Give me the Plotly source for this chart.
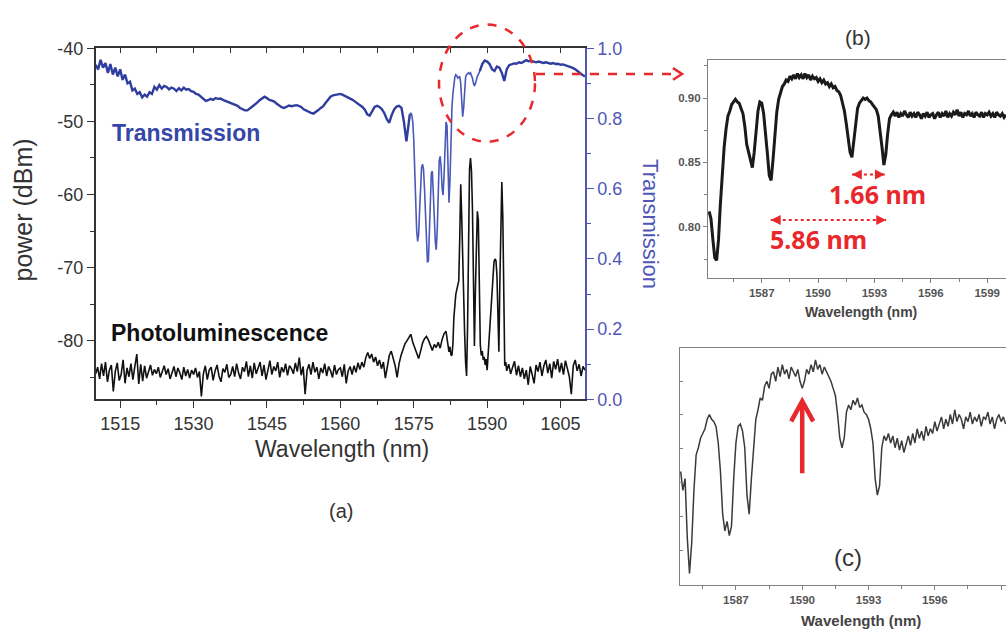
import numpy as np
import plotly.graph_objects as go

# ---------------- Panel (a): transmission (right axis, 0..1) ----------------
trans_seg1_start, trans_seg1_step = 1510.0, 0.5
trans_seg1 = [
    0.953, 0.940, 0.967, 0.945, 0.958, 0.930, 0.955, 0.925, 0.945, 0.920,
    0.940, 0.910, 0.925, 0.900, 0.905, 0.880, 0.885, 0.870, 0.875, 0.860,
    0.868, 0.862, 0.875, 0.870, 0.890, 0.882, 0.895, 0.885, 0.893, 0.890,
    0.883, 0.888, 0.885, 0.878, 0.886, 0.880, 0.888, 0.882, 0.884, 0.878,
    0.876, 0.870, 0.868, 0.862, 0.856, 0.850, 0.852, 0.856, 0.853, 0.858,
    0.856, 0.857, 0.853, 0.850, 0.847, 0.845, 0.843, 0.840, 0.836, 0.830,
    0.826, 0.823, 0.823, 0.828, 0.835, 0.840, 0.845, 0.852, 0.858, 0.862,
    0.858, 0.853, 0.851, 0.848, 0.842, 0.836, 0.832, 0.830, 0.834, 0.837,
    0.835, 0.836, 0.838, 0.836, 0.833, 0.826, 0.822, 0.818, 0.816, 0.814,
    0.818, 0.824, 0.830, 0.835, 0.845, 0.855, 0.862, 0.866, 0.868, 0.870,
    0.870, 0.867, 0.864, 0.860, 0.857, 0.853, 0.848, 0.843, 0.838, 0.833,
    0.825, 0.812, 0.808, 0.822, 0.833, 0.836, 0.833, 0.826, 0.815, 0.798,
    0.788, 0.810, 0.826, 0.834, 0.836, 0.830, 0.790, 0.735, 0.800,
]
trans_seg2_start, trans_seg2_step = 1574.2, 0.2
trans_seg2 = [
    0.812, 0.816, 0.810, 0.790,
    0.740, 0.650, 0.560, 0.480, 0.450,
    0.470, 0.540, 0.620, 0.660, 0.670,
    0.655, 0.600, 0.520, 0.440, 0.390,
    0.395, 0.470, 0.580, 0.645, 0.650,
    0.600, 0.520, 0.450, 0.426, 0.480,
    0.600, 0.680, 0.692, 0.660, 0.600,
    0.582, 0.640, 0.740, 0.790, 0.780,
    0.680, 0.560, 0.620, 0.760, 0.830,
    0.870, 0.900, 0.918, 0.925, 0.922,
    0.915, 0.918, 0.920, 0.900, 0.850,
    0.805, 0.830, 0.890, 0.918, 0.925,
    0.928, 0.930, 0.927, 0.930, 0.922,
    0.915, 0.900, 0.893, 0.900, 0.910,
    0.920,
]
trans_seg3_start, trans_seg3_step = 1588.5, 0.5
trans_seg3 = [
    0.935, 0.955, 0.965, 0.962, 0.955, 0.940, 0.935, 0.948, 0.945, 0.930,
    0.907, 0.940, 0.952, 0.955, 0.957, 0.956, 0.960, 0.958, 0.963, 0.966,
    0.963, 0.964, 0.962, 0.960, 0.962, 0.959, 0.958, 0.960, 0.957, 0.956,
    0.958, 0.955, 0.956, 0.953, 0.954, 0.952, 0.950, 0.948, 0.944, 0.940,
    0.934, 0.928, 0.924, 0.920,
]

# ---------------- Panel (a): photoluminescence (left axis, dBm) ----------------
pl_seg1_start, pl_seg1_step = 1510.0, 0.4
pl_seg1 = [
    -84.5, -83.6, -85.2, -83.1, -84.8, -82.9, -85.6, -84.0, -83.3, -86.9,
    -84.2, -83.0, -85.4, -84.6, -82.6, -85.8, -83.7, -84.9, -83.1, -85.3,
    -83.5, -81.8, -85.9, -83.2, -85.5,
    -83.4, -85.1, -84.0, -83.3, -84.7, -83.9, -84.5, -83.6, -85.0, -84.1,
    -83.4, -84.6, -83.8, -85.2, -84.3, -83.5, -84.9, -83.7, -84.4, -85.3,
    -83.6, -84.8, -83.9, -85.1, -84.0,
    -84.6, -83.7, -85.0, -84.2, -87.6, -84.5, -83.4, -85.3, -84.0, -83.6,
    -85.4, -84.1, -83.3, -84.8, -85.6, -83.8, -84.3, -83.2, -85.0, -84.6,
    -83.5, -84.9, -83.1, -84.4, -85.2,
    -83.6, -84.2, -82.8, -84.9, -83.4, -85.1, -83.0, -84.5, -83.7, -82.9,
    -84.8, -83.3, -85.3, -83.9, -82.7, -84.6, -83.5, -84.1, -82.9, -85.0,
    -83.6, -84.3, -83.1, -84.7, -83.4,
    -83.8, -84.5, -83.0, -84.2, -82.3, -84.7, -83.5, -87.3, -84.0, -83.2,
    -84.6, -82.9, -84.3, -83.6, -85.2, -83.7, -84.4, -83.1, -84.8, -83.5,
    -84.1, -85.0, -83.3, -84.6, -83.9,
    -83.7, -84.9, -83.2, -85.8, -84.1, -83.5, -84.6, -83.4, -84.3, -83.0,
    -83.9, -82.9, -83.6, -82.3, -81.6, -82.4, -81.8, -82.9, -82.2, -83.4,
    -82.6, -83.8, -82.9, -85.1, -83.2,
    -82.0, -81.4, -82.5, -83.4, -85.0, -83.1, -82.0, -81.2, -80.4, -80.0,
    -79.6, -79.1, -80.2, -81.0, -81.8, -82.4, -81.4, -80.3, -79.7, -79.4,
    -79.9, -80.6, -81.3, -80.5, -80.9,
    -80.2, -81.0, -79.8, -79.0, -78.7,
]
pl_seg2_start, pl_seg2_step = 1582.0, 0.2
pl_seg2 = [
    -80.6, -81.5, -80.8, -81.9, -82.0, -80.5, -76.8, -74.5, -73.6, -73.0,
    -72.3, -71.8, -66.0, -58.6, -63.0, -69.5, -74.0, -79.0, -83.0, -84.8,
    -78.0, -66.0, -56.5, -55.0, -56.8, -62.0, -72.0, -80.7, -73.0, -65.0,
    -62.3, -63.5, -72.0, -80.5, -82.0, -81.4, -82.6, -82.2, -83.3, -82.5,
    -84.0, -82.0, -79.0, -76.5, -74.6, -72.5, -70.5, -69.2, -68.8, -69.0,
    -71.0, -76.0, -81.5, -72.0, -62.0, -58.3, -63.0, -76.0, -83.4, -82.9,
    -84.1,
]
pl_seg3_start, pl_seg3_step = 1594.4, 0.4
pl_seg3 = [
    -83.2, -84.5, -83.6, -82.8, -84.7, -83.4, -84.9, -83.7, -85.2, -84.0,
    -86.0, -83.5, -84.6, -85.8, -83.3, -84.2, -82.9, -84.8, -83.4, -82.6,
    -84.4, -83.1, -85.1, -82.8, -83.9, -82.5, -84.3, -83.0, -84.6, -82.7,
    -83.8, -84.9, -87.3, -83.4, -82.6, -84.1, -83.2, -84.8, -83.5, -84.0,
]

# ---------------- Panel (b): zoomed transmission ----------------
b_start, b_step = 1584.2, 0.1
b_trans = [
    0.812, 0.806, 0.790, 0.776, 0.774, 0.790, 0.818, 0.843, 0.862, 0.876,
    0.886, 0.890, 0.895, 0.897, 0.899, 0.897, 0.896, 0.892, 0.888, 0.878,
    0.864, 0.858, 0.853, 0.846, 0.858, 0.876, 0.890, 0.897, 0.896, 0.888,
    0.874, 0.857, 0.840, 0.836, 0.852, 0.874, 0.889, 0.899, 0.905, 0.909,
    0.911, 0.914, 0.913, 0.917, 0.915, 0.918, 0.915, 0.919, 0.916, 0.918,
    0.915, 0.919, 0.916, 0.918, 0.914, 0.917, 0.915, 0.916, 0.913, 0.915,
    0.912, 0.914, 0.911, 0.912, 0.909, 0.911, 0.908, 0.909, 0.906, 0.905,
    0.902, 0.897, 0.890, 0.880, 0.868, 0.858, 0.854, 0.866, 0.882, 0.892,
    0.896, 0.898, 0.900, 0.899, 0.900, 0.898, 0.897, 0.895, 0.893, 0.891,
    0.886, 0.876, 0.862, 0.848, 0.856, 0.872, 0.884, 0.887, 0.889,
    0.886, 0.889, 0.885, 0.888, 0.886, 0.890, 0.887, 0.885, 0.889, 0.886,
    0.888, 0.885, 0.889, 0.887, 0.884, 0.888, 0.886, 0.889, 0.885, 0.887,
    0.888, 0.884, 0.887, 0.889, 0.885, 0.888, 0.886, 0.890, 0.885, 0.888,
    0.886, 0.889, 0.887, 0.891, 0.886, 0.889, 0.885, 0.888, 0.887, 0.890,
    0.886, 0.888, 0.885, 0.889, 0.887, 0.886, 0.889, 0.885, 0.888, 0.887,
    0.889, 0.886, 0.888, 0.885, 0.889, 0.887, 0.886, 0.888, 0.885, 0.887,
]

# ---------------- Panel (c): zoomed spectrum (arb. units) ----------------
c_start, c_step = 1584.5, 0.1
c_signal = [
    0.48, 0.40, 0.45, 0.20, 0.05, 0.18, 0.40, 0.55, 0.58, 0.62,
    0.64, 0.66, 0.70, 0.72, 0.70, 0.69, 0.67, 0.60, 0.48, 0.30,
    0.23, 0.27, 0.21, 0.25, 0.45, 0.60, 0.67, 0.68, 0.65, 0.58,
    0.38, 0.30, 0.45, 0.60, 0.70, 0.74, 0.79, 0.78, 0.84, 0.86,
    0.83, 0.89, 0.90, 0.86, 0.92, 0.88, 0.93, 0.89, 0.91, 0.87,
    0.92, 0.90, 0.88, 0.91, 0.86, 0.83, 0.86, 0.91, 0.89, 0.93,
    0.90, 0.95, 0.91, 0.93, 0.89, 0.92, 0.90, 0.88, 0.86, 0.83,
    0.80, 0.72, 0.62, 0.58, 0.62, 0.73, 0.76, 0.74, 0.78, 0.76,
    0.79, 0.75, 0.76, 0.73, 0.72, 0.70, 0.66, 0.60, 0.45, 0.38,
    0.42, 0.58, 0.63, 0.61, 0.64, 0.60, 0.63, 0.58, 0.62, 0.57,
    0.61, 0.56, 0.60, 0.63, 0.59, 0.64, 0.60, 0.66, 0.62, 0.65,
    0.61, 0.67, 0.63, 0.66, 0.64, 0.69, 0.65, 0.68, 0.71, 0.66,
    0.70, 0.67, 0.72, 0.68, 0.74, 0.69, 0.72, 0.70, 0.66, 0.71,
    0.69, 0.73, 0.68, 0.71, 0.69, 0.72, 0.67, 0.71, 0.70, 0.73,
    0.68, 0.71, 0.66, 0.70, 0.72, 0.69, 0.71, 0.68,
]

# tick labels
power_ticks = [-80, -70, -60, -50, -40]
power_ticktext = ["-80", "-70", "-60", "-50", "-40"]

# annotation values
spacing_labels = ["1.66 nm", "5.86 nm"]
spacing_short = (1591.80, 1593.55, 0.8406)
spacing_long = (1587.48, 1593.62, 0.8053)
arrow_c = (1590.0, 0.473, 0.776)


def grid(start, step, vals):
    return start + step * np.arange(len(vals))


t1_wl = grid(trans_seg1_start, trans_seg1_step, trans_seg1)
t2_wl = grid(trans_seg2_start, trans_seg2_step, trans_seg2)
t3_wl = grid(trans_seg3_start, trans_seg3_step, trans_seg3)
pl_wl = np.concatenate([grid(pl_seg1_start, pl_seg1_step, pl_seg1),
                        grid(pl_seg2_start, pl_seg2_step, pl_seg2),
                        grid(pl_seg3_start, pl_seg3_step, pl_seg3)])
pl_val = np.array(pl_seg1 + pl_seg2 + pl_seg3)
b_wl = grid(b_start, b_step, b_trans)
c_wl = grid(c_start, c_step, c_signal)

W, H = 1006, 638
FONT = "Liberation Sans, Arial, sans-serif"
BLUE = "#2f3e9e"
BLUE_THIN = "#4a58b8"
AXBLUE = "#5056b8"
RED = "#e8282b"
DARK = "#333333"
GRAY = "#808080"


def px(x):
    return x / W


def py(y):
    return 1 - y / H


fig = go.Figure()
fig.add_trace(go.Scatter(x=pl_wl, y=pl_val, xaxis="x", yaxis="y", mode="lines",
                         line=dict(color="#111111", width=1.6), showlegend=False, hoverinfo="skip"))
# transmission: thick in smooth regions, thinner through the deep dips
fig.add_trace(go.Scatter(x=np.append(t1_wl, t2_wl[0]), y=trans_seg1 + [trans_seg2[0]],
                         xaxis="x", yaxis="y2", mode="lines",
                         line=dict(color=BLUE, width=2.4), showlegend=False, hoverinfo="skip"))
fig.add_trace(go.Scatter(x=np.append(t2_wl, t3_wl[0]), y=trans_seg2 + [trans_seg3[0]],
                         xaxis="x", yaxis="y2", mode="lines",
                         line=dict(color=BLUE_THIN, width=1.6), showlegend=False, hoverinfo="skip"))
fig.add_trace(go.Scatter(x=t3_wl, y=trans_seg3, xaxis="x", yaxis="y2", mode="lines",
                         line=dict(color=BLUE, width=2.4), showlegend=False, hoverinfo="skip"))
fig.add_trace(go.Scatter(x=[1510], y=[-88], xaxis="x4", yaxis="y", mode="markers",
                         marker=dict(opacity=0), showlegend=False, hoverinfo="skip"))
fig.add_trace(go.Scatter(x=b_wl, y=b_trans, xaxis="x2", yaxis="y3", mode="lines",
                         line=dict(color="#1a1a1a", width=3), showlegend=False, hoverinfo="skip"))
fig.add_trace(go.Scatter(x=c_wl, y=c_signal, xaxis="x3", yaxis="y4", mode="lines",
                         line=dict(color="#3a3a3a", width=1.5), showlegend=False, hoverinfo="skip"))

a_dom_x = [px(95.7), px(585)]
a_dom_y = [py(402), py(39.5)]
tickfont_a = dict(family=FONT, size=18, color=DARK)
small_tick = dict(family=FONT, size=11.5, color="#555555", weight="bold")

fig.update_layout(
    width=W, height=H, margin=dict(l=0, r=0, t=0, b=0),
    paper_bgcolor="white", plot_bgcolor="rgba(0,0,0,0)",
    font=dict(family=FONT),
    xaxis=dict(domain=a_dom_x, anchor="y", range=[1510, 1610], tick0=1515, dtick=15,
               ticks="outside", ticklen=7, tickwidth=1.3, tickcolor=DARK,
               showline=True, linecolor=DARK, linewidth=1.5, mirror=True,
               showgrid=False, zeroline=False, tickfont=tickfont_a,
               minor=dict(tick0=1515, dtick=7.5, ticks="outside", ticklen=4, tickcolor=DARK)),
    xaxis4=dict(overlaying="x", anchor="y", side="top", matches="x", range=[1510, 1610],
                tick0=1515, dtick=7.5, ticks="inside", ticklen=5, tickcolor=DARK,
                showticklabels=False, showgrid=False, zeroline=False, showline=False),
    yaxis=dict(domain=a_dom_y, anchor="x", range=[-88, -40], tickmode="array",
               tickvals=power_ticks, ticktext=power_ticktext,
               ticks="outside", ticklen=7, tickwidth=1.3, tickcolor=DARK,
               showline=True, linecolor=DARK, linewidth=1.5,
               showgrid=False, zeroline=False, tickfont=tickfont_a,
               minor=dict(tick0=-80, dtick=5, ticks="outside", ticklen=4, tickcolor=DARK)),
    yaxis2=dict(overlaying="y", anchor="x", side="right", range=[0, 1.0], tick0=0, dtick=0.2,
                tickformat=".1f", ticks="outside", ticklen=7, tickwidth=1.3, tickcolor=AXBLUE,
                showline=True, linecolor=AXBLUE, linewidth=1.5,
                showgrid=False, zeroline=False,
                tickfont=dict(family=FONT, size=18, color=AXBLUE),
                minor=dict(tick0=0, dtick=0.1, ticks="outside", ticklen=4, tickcolor=AXBLUE)),
    xaxis2=dict(domain=[px(708), 1.0], anchor="y3", range=[1584.14, 1600.0], tick0=1587, dtick=3,
                ticks="outside", ticklen=4, tickcolor=GRAY, showline=True, linecolor=GRAY,
                linewidth=1.2, mirror=True, showgrid=False, zeroline=False, tickfont=small_tick,
                minor=dict(tick0=1587, dtick=1.5, ticks="outside", ticklen=3, tickcolor=GRAY)),
    yaxis3=dict(domain=[py(277), py(52)], anchor="x2", range=[0.760, 0.9293],
                tickvals=[0.80, 0.85, 0.90], tickformat=".2f",
                ticks="outside", ticklen=4, tickcolor=GRAY, showline=True, linecolor=GRAY,
                linewidth=1.2, showgrid=False, zeroline=False, tickfont=small_tick,
                minor=dict(tick0=0.8, dtick=0.025, ticks="outside", ticklen=3, tickcolor=GRAY)),
    xaxis3=dict(domain=[px(680), 1.0], anchor="y4", range=[1584.47, 1599.22], tick0=1587, dtick=3,
                ticks="outside", ticklen=4, tickcolor=GRAY, showline=True, linecolor=GRAY,
                linewidth=1.2, mirror=True, showgrid=False, zeroline=False, tickfont=small_tick,
                minor=dict(tick0=1587, dtick=1.5, ticks="outside", ticklen=3, tickcolor=GRAY)),
    yaxis4=dict(domain=[py(594), py(349)], anchor="x3", range=[0, 1],
                tick0=0.004, dtick=0.1428, ticks="inside", ticklen=3, tickcolor=GRAY,
                showticklabels=False, showline=True, linecolor=GRAY, linewidth=1.2,
                showgrid=False, zeroline=False),
)

ann = []


def text(x, y, s, size, color=DARK, bold=False, angle=0, family=FONT):
    ann.append(dict(xref="paper", yref="paper", x=px(x), y=py(y), text=s, showarrow=False,
                    textangle=angle, xanchor="center", yanchor="middle",
                    font=dict(family=family, size=size, color=color,
                              weight="bold" if bold else "normal")))


text(186, 127, "Transmission", 23, color="#3446a8", bold=True)
text(219, 333, "Photoluminescence", 23, color="#111111", bold=True)
text(23, 207, "power (dBm)", 25, angle=-90)
text(651, 221, "Transmission", 22, color=AXBLUE, angle=90)
text(342, 453, "Wavelength (nm)", 23)
text(341, 517, "(a)", 20)
text(858, 28, "(b)", 21)
text(861, 312, "Wavelength (nm)", 14, color="#444444", bold=True)
text(848, 565, "(c)", 24)
text(861, 630, "Wavelength (nm)", 15, color="#444444", bold=True)
text(877, 190, spacing_labels[0], 25, color=RED, bold=True, family="Noto Sans, Open Sans, sans-serif")
text(818, 236, spacing_labels[1], 25, color=RED, bold=True, family="Noto Sans, Open Sans, sans-serif")

# arrowheads for dotted double arrows in (b)
for (x0, x1, yv) in (spacing_short, spacing_long):
    for xe, off in ((x0, 8), (x1, -8)):
        ann.append(dict(xref="x2", yref="y3", x=xe, y=yv, ax=off, ay=0, text="",
                        showarrow=True, arrowhead=2, arrowsize=1.1, arrowwidth=1.8,
                        arrowcolor=RED))

fig.update_layout(annotations=ann)

shapes = []
for (x0, x1, yv) in (spacing_short, spacing_long):
    shapes.append(dict(type="line", xref="x2", yref="y3", x0=x0, x1=x1, y0=yv, y1=yv,
                       line=dict(color=RED, width=2, dash="dot")))
shapes.append(dict(type="circle", xref="paper", yref="paper",
                   x0=px(439), x1=px(535), y0=py(136), y1=py(15),
                   line=dict(color=RED, width=2.5, dash="dash")))
shapes.append(dict(type="line", xref="paper", yref="paper",
                   x0=px(536), x1=px(681), y0=py(66), y1=py(66),
                   line=dict(color=RED, width=2.5, dash="dash")))
shapes.append(dict(type="path", xref="paper", yref="paper",
                   path=f"M {px(673)},{py(60)} L {px(682)},{py(66)} L {px(673)},{py(72)}",
                   line=dict(color=RED, width=2.5)))
xa, ya0, ya1 = arrow_c
shapes.append(dict(type="line", xref="x3", yref="y4", x0=xa, x1=xa, y0=ya0, y1=ya1 - 0.01,
                   line=dict(color=RED, width=4.5)))
shapes.append(dict(type="path", xref="x3", yref="y4",
                   path=f"M {xa - 0.5},{ya1 - 0.085} L {xa},{ya1} L {xa + 0.5},{ya1 - 0.085}",
                   line=dict(color=RED, width=4.5)))
fig.update_layout(shapes=shapes)

fig.write_html("out.html")
